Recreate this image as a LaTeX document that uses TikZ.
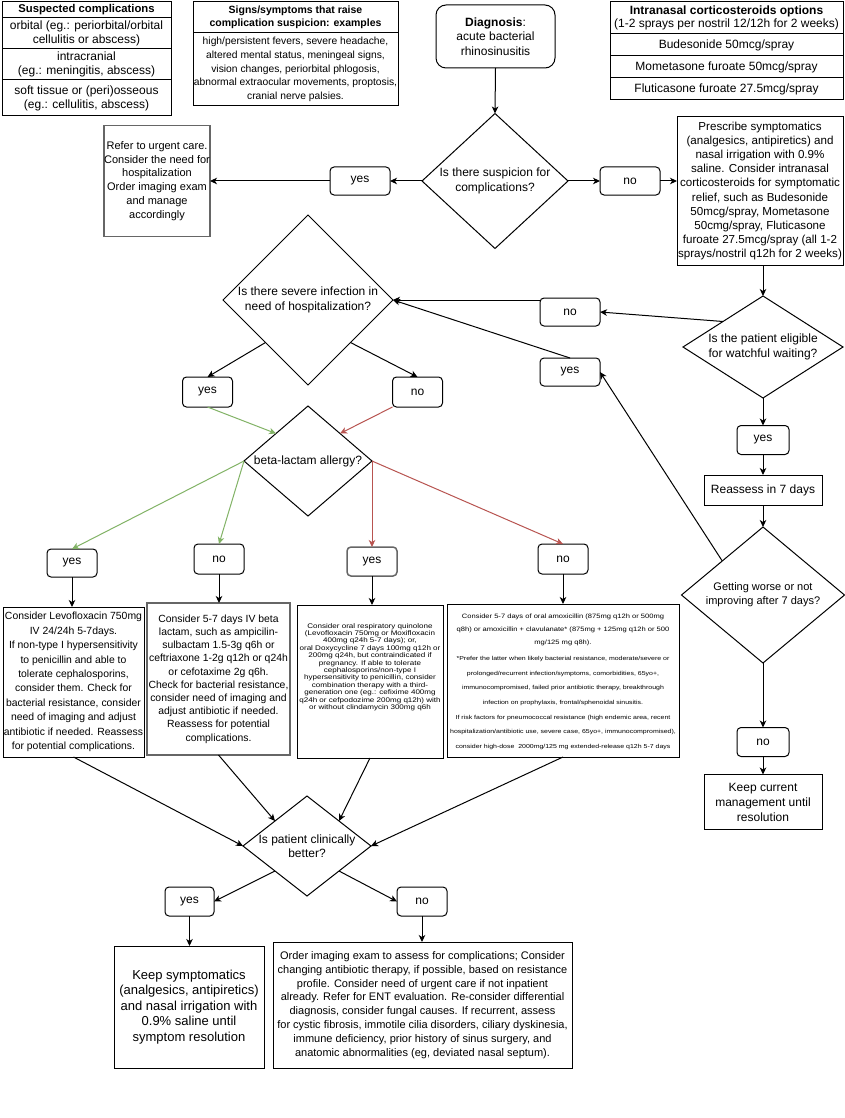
\documentclass[tikz,border=0pt]{standalone}
\usepackage{fontspec}
\setmainfont{Liberation Sans}
\newfontfamily\widefont[FakeStretch=1.2]{Liberation Sans}
\usetikzlibrary{shapes.geometric,arrows.meta}
\newcommand{\myfs}[2]{\fontsize{#1}{#2}\selectfont}
\definecolor{grn}{HTML}{82B366}
\definecolor{rd}{HTML}{B85450}
\definecolor{gbord}{HTML}{666666}
\tikzset{
  base/.style={inner sep=0pt, outer sep=0pt, align=center, line width=1pt},
  cell/.style={base, draw, font=\myfs{12}{14}},
  box/.style={base, draw, font=\myfs{12}{14.4}},
  gbox/.style={box, draw=gbord, line width=1.5pt},
  lbl/.style={base, draw, rounded corners=4pt, font=\myfs{12}{14}},
  glbl/.style={lbl, draw=gbord, line width=1.5pt},
  dia/.style={base, draw, diamond},
  dtext/.style={base, font=\myfs{12}{14.4}},
  txt/.style={base},
  arr/.style={line width=1pt, -{Stealth[length=7pt,width=6.5pt,inset=2pt]}},
  garr/.style={arr, draw=grn},
  rarr/.style={arr, draw=rd},
}
\begin{document}
\begin{tikzpicture}[x=1pt,y=-1pt]
\fill[white] (0,0) rectangle (845,1118);
\useasboundingbox (0,0) rectangle (845,1118);

% ---- Table 1
\node[cell, font=\bfseries\myfs{11.3}{13}, minimum width=169, minimum height=16] (t1h) at (86.5,10) {Suspected complications};
\node[cell, minimum width=169, minimum height=31] (t1a) at (86.5,33.5) {orbital (eg.: periorbital/orbital\\cellulitis or abscess)};
\node[cell, minimum width=169, minimum height=31] (t1b) at (86.5,64.5) {intracranial\\(eg.: meningitis, abscess)};
\node[cell, minimum width=169, minimum height=36] (t1c) at (86.5,98) {soft tissue or (peri)osseous\\(eg.: cellulitis, abscess)};

% ---- Table 2
\node[cell, font=\bfseries\myfs{10.5}{13}, minimum width=205, minimum height=31] (t2h) at (295.5,17.5) {Signs/symptoms that raise\\complication suspicion: examples};
\node[cell, font=\myfs{10.3}{13.8}, minimum width=205, minimum height=73] (t2b) at (295.5,69.5) {high/persistent fevers, severe headache,\\altered mental status, meningeal signs,\\vision changes, periorbital phlogosis,\\abnormal extraocular movements, proptosis,\\cranial nerve palsies.};

% ---- Diagnosis
\node[lbl, rounded corners=10pt, minimum width=119, minimum height=63, font=\myfs{12}{14.4}] (diag) at (495.5,36.5) {\textbf{Diagnosis}:\\acute bacterial\\rhinosinusitis};

% ---- Table 3
\node[cell, minimum width=233, minimum height=32, font=\myfs{12}{13.5}] (t3h) at (726.5,18) {\textbf{Intranasal corticosteroids options}\\(1-2 sprays per nostril 12/12h for 2 weeks)};
\node[cell, minimum width=233, minimum height=22] (t3a) at (726.5,45) {Budesonide 50mcg/spray};
\node[cell, minimum width=233, minimum height=22] (t3b) at (726.5,67) {Mometasone furoate 50mcg/spray};
\node[cell, minimum width=233, minimum height=22] (t3c) at (726.5,89) {Fluticasone furoate 27.5mcg/spray};

% ---- First decision
\node[dia, minimum width=146, minimum height=135] (d1) at (495,181) {};
\node[dtext] (d1t) at (495,181) {Is there suspicion for\\complications?};
\node[lbl, minimum width=60, minimum height=28] (yes1) at (360,181) {yes};
\node[lbl, minimum width=60, minimum height=28] (no1) at (630,181) {no};
\node[gbox, font=\myfs{11}{13.8}, minimum width=106, minimum height=111] (refer) at (157,181) {Refer to urgent care.\\Consider the need for\\hospitalization\\Order imaging exam\\and manage\\accordingly};
\node[box, font=\myfs{11.6}{14.2}, minimum width=166, minimum height=148] (presc) at (760,191) {Prescribe symptomatics\\(analgesics, antipiretics) and\\nasal irrigation with 0.9\%\\saline. Consider intranasal\\corticosteroids for symptomatic\\relief, such as Budesonide\\50mcg/spray, Mometasone\\50cmg/spray, Fluticasone\\furoate 27.5mcg/spray (all 1-2\\sprays/nostril q12h for 2 weeks)};

% ---- Right column
\node[dia, minimum width=160, minimum height=102] (wd) at (763,347) {};
\node[dtext] (wdt) at (763,347) {Is the patient eligible\\for watchful waiting?};
\node[lbl, minimum width=60, minimum height=28] (noW) at (570,312) {no};
\node[lbl, minimum width=60, minimum height=28] (yesW) at (570,372) {yes};
\node[lbl, minimum width=52, minimum height=29] (yes7) at (763,440) {yes};
\node[box, minimum width=118, minimum height=30] (reas) at (763,490) {Reassess in 7 days};
\node[dia, minimum width=163, minimum height=136] (gw) at (763,595) {};
\node[dtext, font=\myfs{11}{14}] (gwt) at (763,595) {Getting worse or not\\improving after 7 days?};
\node[lbl, minimum width=52, minimum height=29] (no7) at (763,742) {no};
\node[box, font=\myfs{12}{15}, minimum width=118, minimum height=55] (keep2) at (763,802) {Keep current\\management until\\resolution};

% ---- Severe infection
\node[dia, minimum width=170, minimum height=170] (sev) at (308,300) {};
\node[dtext] (sevt) at (308,300) {Is there severe infection in\\need of hospitalization?};
\node[lbl, minimum width=50, minimum height=30] (yes3) at (207.5,392) {yes};
\node[lbl, minimum width=50, minimum height=30] (no3) at (417.5,392) {no};

% ---- Beta-lactam allergy
\node[dia, minimum width=128, minimum height=110] (bd) at (308,461) {};
\node[dtext] (bdt) at (308,461) {beta-lactam allergy?};
\node[lbl, minimum width=50, minimum height=28] (yes4) at (72,563) {yes};
\node[lbl, minimum width=50, minimum height=30] (no4) at (219,559) {no};
\node[glbl, minimum width=50, minimum height=29] (yes5) at (372,561.5) {yes};
\node[lbl, minimum width=50, minimum height=30] (no5) at (563,559) {no};

% ---- Treatment boxes
\node[box, font=\myfs{10.4}{14.4}, minimum width=141, minimum height=150] (A) at (73.5,682) {Consider Levofloxacin 750mg\\IV 24/24h 5-7days.\\If non-type I hypersensitivity\\to penicillin and able to\\tolerate cephalosporins,\\consider them. Check for\\bacterial resistance, consider\\need of imaging and adjust\\antibiotic if needed. Reassess\\for potential complications.};
\node[gbox, font=\myfs{10.4}{13.2}, minimum width=143, minimum height=152] (B) at (218.5,679) {Consider 5-7 days IV beta\\lactam, such as ampicilin-\\sulbactam 1.5-3g q6h or\\ceftriaxone 1-2g q12h or q24h\\or cefotaxime 2g q6h.\\Check for bacterial resistance,\\consider need of imaging and\\adjust antibiotic if needed.\\Reassess for potential\\complications.};
\node[box, minimum width=146, minimum height=153] (C) at (370,681.5) {};
\node[txt, font=\widefont\myfs{6.7}{7.4}] (Ct) at (370,667) {Consider oral respiratory quinolone\\(Levofloxacin 750mg or Moxifloxacin\\400mg q24h 5-7 days); or,\\oral Doxycycline 7 days 100mg q12h or\\200mg q24h, but contraindicated if\\pregnancy. If able to tolerate\\cephalosporins/non-type I\\hypersensitivity to penicillin, consider\\combination therapy with a third-\\generation one (eg.: cefixime 400mg\\q24h or cefpodozime 200mg q12h) with\\or without clindamycin 300mg q6h};
\node[box, minimum width=232, minimum height=153] (D) at (563,680.5) {};
\node[txt, font=\widefont\myfs{6.3}{13}] (Dt1) at (563,630) {Consider 5-7 days of oral amoxicillin (875mg q12h or 500mg\\q8h) or amoxicillin + clavulanate* (875mg + 125mg q12h or 500\\mg/125 mg q8h).};
\node[txt, font=\widefont\myfs{5.8}{14.6}] (Dt2) at (563,703) {*Prefer the latter when likely bacterial resistance, moderate/severe or\\prolonged/recurrent infection/symptoms, comorbidities, 65yo+,\\immunocompromised, failed prior antibiotic therapy, breakthrough\\infection on prophylaxis, frontal/sphenoidal sinusitis.\\If risk factors for pneumococcal resistance (high endemic area, recent\\hospitalization/antibiotic use, severe case, 65yo+, immunocompromised),\\consider high-dose\ \ 2000mg/125 mg extended-release q12h 5-7 days};

% ---- Clinically better
\node[dia, minimum width=128, minimum height=100] (cd) at (307,846) {};
\node[dtext] (cdt) at (307,846) {Is patient clinically\\better?};
\node[lbl, minimum width=49, minimum height=29] (yes6) at (189.5,901.5) {yes};
\node[lbl, minimum width=50, minimum height=29] (no6) at (422,901.5) {no};
\node[box, font=\myfs{13}{15.5}, minimum width=150, minimum height=122] (keep1) at (189,1007) {Keep symptomatics\\(analgesics, antipiretics)\\and nasal irrigation with\\0.9\% saline until\\symptom resolution};
\node[box, font=\myfs{11}{13.8}, minimum width=299, minimum height=126] (big) at (422.5,1005) {Order imaging exam to assess for complications; Consider\\changing antibiotic therapy, if possible, based on resistance\\profile. Consider need of urgent care if not inpatient\\already. Refer for ENT evaluation. Re-consider differential\\diagnosis, consider fungal causes. If recurrent, assess\\for cystic fibrosis, immotile cilia disorders, ciliary dyskinesia,\\immune deficiency, prior history of sinus surgery, and\\anatomic abnormalities (eg, deviated nasal septum).};

% ---- Connectors
\draw[arr] (diag.south) -- (d1.north);
\draw[arr] (d1.west) -- (yes1.east);
\draw[arr] (yes1.west) -- (refer.east |- yes1.west);
\draw[arr] (d1.east) -- (no1.west);
\draw[arr] (no1.east) -- (no1.east -| presc.west);
\draw[arr] (presc.south -| wd.north) -- (wd.north);
\draw[arr] (wd.north west) -- (noW.east);
\draw[arr] (noW.west |- sev.east) -- (sev.east);
\draw[arr] (wd.south) -- (yes7.north);
\draw[arr] (yes7.south) -- (reas.north);
\draw[arr] (reas.south) -- (gw.north);
\draw[arr] (gw.south) -- (no7.north);
\draw[arr] (no7.south) -- (keep2.north);
\draw[arr] (gw.north west) -- (yesW.east);
\draw[arr] (yesW.north) -- (sev.east);
\draw[arr] (sev.south west) -- (yes3.north);
\draw[arr] (sev.south east) -- (no3.north);
\draw[garr] (yes3.south) -- (bd.north west);
\draw[rarr] (no3.south west) -- (bd.north east);
\draw[garr] (bd.west) -- (yes4.north);
\draw[garr] (bd.west) -- (no4.north);
\draw[rarr] (bd.east) -- (yes5.north);
\draw[rarr] (bd.east) -- (no5.north);
\draw[arr] (yes4.south) -- (yes4.south |- A.north);
\draw[arr] (no4.south) -- (no4.south |- B.north);
\draw[arr] (yes5.south) -- (yes5.south |- C.north);
\draw[arr] (no5.south) -- (no5.south |- D.north);
\draw[arr] (A.south) -- (cd.west);
\draw[arr] (B.south) -- (cd.north west);
\draw[arr] (C.south) -- (cd.north east);
\draw[arr] (D.south) -- (cd.east);
\draw[arr] (cd.south west) -- (yes6.east);
\draw[arr] (cd.south east) -- (no6.west);
\draw[arr] (yes6.south) -- (yes6.south |- keep1.north);
\draw[arr] (no6.south) -- (no6.south |- big.north);
\end{tikzpicture}
\end{document}
